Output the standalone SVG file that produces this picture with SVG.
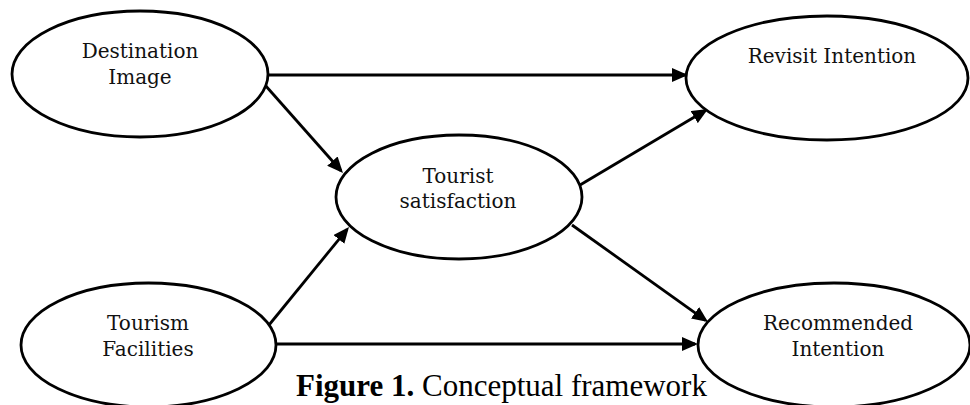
<svg xmlns="http://www.w3.org/2000/svg" width="970" height="405" viewBox="0 0 970 405">
  <style>
    .node ellipse { fill: #ffffff; stroke: #000000; stroke-width: 2.8; }
    .node text { font-family: "DejaVu Serif", "Liberation Serif", serif; font-size: 20px; fill: #111111; text-anchor: middle; }
    .edge { stroke: #000000; stroke-width: 2.8; fill: none; marker-end: url(#arrow); }
    .caption { font-family: "Liberation Serif", "Times New Roman", serif; font-size: 31px; fill: #000000; }
  </style>
  <defs>
    <marker id="arrow" markerUnits="userSpaceOnUse" markerWidth="16" markerHeight="14" refX="13" refY="7" orient="auto">
      <path d="M0,0 L16,7 L0,14 z" fill="#000000"/>
    </marker>
  </defs>

  <rect width="970" height="405" fill="#ffffff"/>

  <g id="connectors">
    <line class="edge" x1="268" y1="75" x2="685" y2="75"/>
    <line class="edge" x1="265" y1="85" x2="341" y2="170.8"/>
    <line class="edge" x1="580" y1="185" x2="705.4" y2="110.5"/>
    <line class="edge" x1="572" y1="225" x2="705.6" y2="320.3"/>
    <line class="edge" x1="269" y1="325" x2="347.1" y2="229.3"/>
    <line class="edge" x1="276" y1="344" x2="695" y2="344"/>
  </g>

  <g id="destination-image" class="node">
    <ellipse cx="140" cy="74" rx="128" ry="63"/>
    <text x="140" y="58">Destination</text>
    <text x="140" y="84">Image</text>
  </g>

  <g id="revisit-intention" class="node">
    <ellipse cx="827" cy="78" rx="141" ry="62"/>
    <text x="832" y="63">Revisit Intention</text>
  </g>

  <g id="tourist-satisfaction" class="node">
    <ellipse cx="459" cy="197" rx="123" ry="62"/>
    <text x="458" y="183">Tourist</text>
    <text x="458" y="208">satisfaction</text>
  </g>

  <g id="tourism-facilities" class="node">
    <ellipse cx="148.5" cy="345" rx="127.5" ry="62"/>
    <text x="148" y="330">Tourism</text>
    <text x="148" y="356">Facilities</text>
  </g>

  <g id="recommended-intention" class="node">
    <ellipse cx="834" cy="345" rx="136" ry="62"/>
    <text x="838" y="330">Recommended</text>
    <text x="838" y="356">Intention</text>
  </g>

  <text class="caption" x="296" y="396"><tspan font-weight="bold">Figure 1.</tspan> Conceptual framework</text>
</svg>
